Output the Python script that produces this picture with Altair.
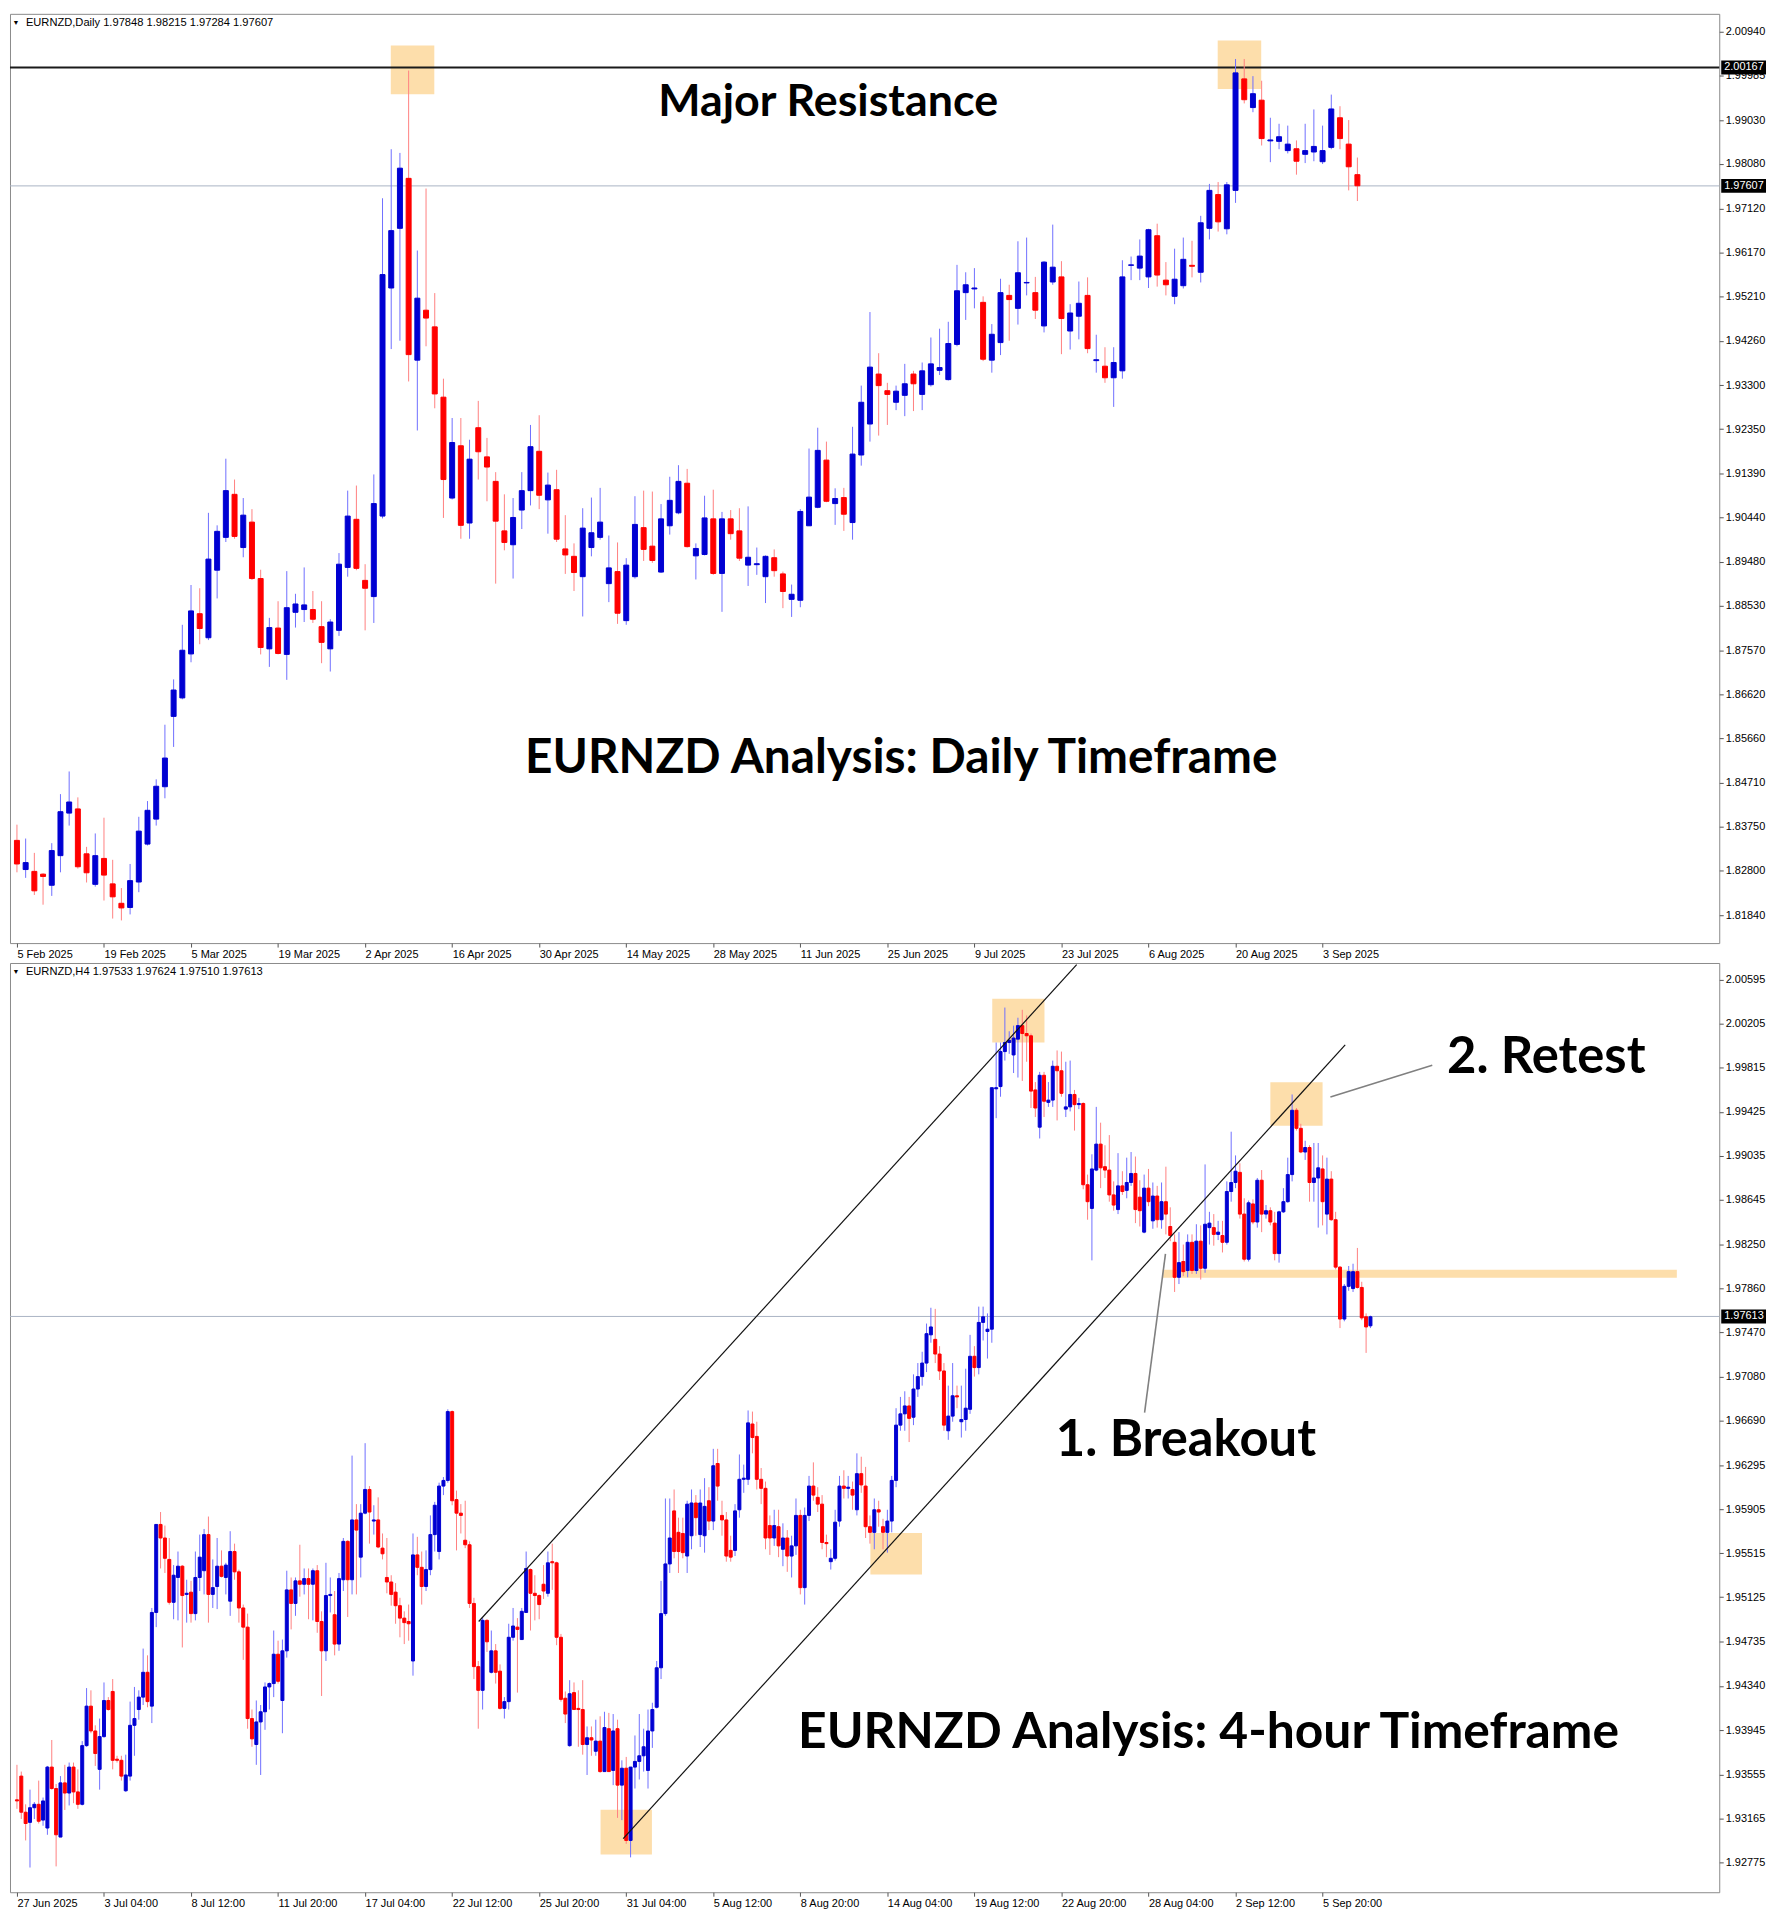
import altair as alt
import pandas as pd

FONT = "Liberation Sans"
TFONT = "Lato"
BLUE = "#0000d2"
RED = "#ff0000"
WICK_UP = "#6f6fff"
WICK_DN = "#ff8080"
BOX = "#fddeab"

# ---------------- Daily candles (5 Feb 2025 .. 9 Sep 2025) ----------------
d_open = [1.8346,1.8283,1.8279,1.8273,1.8249,1.8313,1.8405,1.8414,1.8317,1.8251,
 1.8307,1.8252,1.8210,1.8201,1.8256,1.8338,1.8392,1.8462,1.8614,1.8654,
 1.8749,1.8836,1.8784,1.8930,1.9001,1.9094,1.8979,1.9034,1.8912,1.8760,
 1.8805,1.8748,1.8839,1.8845,1.8845,1.8808,1.8760,1.8800,1.8936,1.9040,
 1.8908,1.8873,1.9047,1.9540,1.9669,1.9777,1.9384,1.9492,1.9456,1.9304,
 1.9086,1.9199,1.9032,1.9238,1.9175,1.9122,1.9015,1.8985,1.9060,1.9102,
 1.9187,1.9082,1.9104,1.8976,1.8960,1.8916,1.8979,1.9001,1.8901,1.8927,
 1.8821,1.8916,1.9022,1.8982,1.8926,1.9026,1.9054,1.9118,1.8961,1.8964,
 1.9041,1.8923,1.9041,1.9015,1.8941,1.8942,1.8916,1.8957,1.8922,1.8867,
 1.8865,1.9026,1.9066,1.9168,1.9074,1.9087,1.9033,1.9179,1.9246,1.9354,
 1.9318,1.9293,1.9308,1.9354,1.9310,1.9331,1.9362,1.9342,1.9418,1.9530,
 1.9538,1.9509,1.9384,1.9422,1.9524,1.9496,1.9551,1.9530,1.9458,1.9553,
 1.9564,1.9447,1.9479,1.9524,1.9383,1.9371,1.9346,1.9361,1.9589,1.9583,
 1.9564,1.9653,1.9557,1.9522,1.9545,1.9589,1.9574,1.9669,1.9742,1.9668,
 1.9751,1.9992,1.9930,1.9946,1.9858,1.9857,1.9837,1.9841,1.9829,1.9834,
 1.9813,1.9844,1.9908,1.9851,1.9785]
d_high = [1.8380,1.8350,1.8319,1.8275,1.8340,1.8446,1.8495,1.8439,1.8332,1.8361,
 1.8395,1.8304,1.8243,1.8295,1.8397,1.8431,1.8478,1.8596,1.8694,1.8812,
 1.8898,1.8891,1.9054,1.9027,1.9171,1.9126,1.9086,1.9062,1.8931,1.8827,
 1.8863,1.8928,1.8879,1.8936,1.8885,1.8863,1.8824,1.8967,1.9102,1.9113,
 1.8943,1.9137,1.9734,1.9840,1.9832,2.0010,1.9621,1.9755,1.9529,1.9344,
 1.9259,1.9259,1.9212,1.9296,1.9216,1.9142,1.9094,1.9086,1.9142,1.9244,
 1.9265,1.9141,1.9147,1.9049,1.8988,1.9064,1.9087,1.9108,1.9005,1.8990,
 1.8956,1.9090,1.9102,1.9100,1.9073,1.9132,1.9157,1.9149,1.8988,1.9091,
 1.9104,1.9056,1.9060,1.9064,1.9068,1.8979,1.8962,1.8975,1.8927,1.8899,
 1.9062,1.9193,1.9238,1.9208,1.9107,1.9108,1.9240,1.9329,1.9488,1.9399,
 1.9335,1.9329,1.9376,1.9361,1.9379,1.9433,1.9452,1.9467,1.9590,1.9574,
 1.9583,1.9522,1.9462,1.9560,1.9547,1.9641,1.9649,1.9564,1.9598,1.9677,
 1.9598,1.9505,1.9554,1.9563,1.9439,1.9412,1.9412,1.9600,1.9608,1.9645,
 1.9668,1.9679,1.9596,1.9625,1.9649,1.9642,1.9696,1.9765,1.9769,1.9769,
 2.0035,2.0035,1.9998,1.9988,1.9908,1.9895,1.9891,1.9859,1.9895,1.9926,
 1.9891,1.9958,1.9933,1.9903,1.9822]
d_low = [1.8277,1.8265,1.8228,1.8207,1.8226,1.8277,1.8378,1.8285,1.8255,1.8246,
 1.8216,1.8177,1.8173,1.8186,1.8234,1.8335,1.8378,1.8437,1.8548,1.8651,
 1.8731,1.8770,1.8779,1.8869,1.8991,1.8998,1.8958,1.8909,1.8748,1.8721,
 1.8748,1.8693,1.8806,1.8818,1.8816,1.8729,1.8711,1.8788,1.8916,1.8930,
 1.8800,1.8816,1.9042,1.9408,1.9426,1.9338,1.9232,1.9414,1.9280,1.9043,
 1.9083,1.8998,1.8998,1.9126,1.9079,1.8901,1.8973,1.8912,1.9019,1.9070,
 1.9062,1.9009,1.8991,1.8922,1.8885,1.8830,1.8960,1.8996,1.8861,1.8814,
 1.8812,1.8912,1.8950,1.8946,1.8924,1.9007,1.9051,1.8979,1.8910,1.8962,
 1.8920,1.8840,1.8996,1.8950,1.8896,1.8920,1.8859,1.8916,1.8848,1.8829,
 1.8850,1.9026,1.9064,1.9077,1.9028,1.9015,1.8996,1.9156,1.9208,1.9221,
 1.9244,1.9276,1.9263,1.9274,1.9276,1.9327,1.9352,1.9340,1.9414,1.9471,
 1.9496,1.9382,1.9357,1.9395,1.9426,1.9461,1.9524,1.9473,1.9444,1.9547,
 1.9397,1.9407,1.9429,1.9399,1.9357,1.9335,1.9283,1.9344,1.9557,1.9557,
 1.9540,1.9543,1.9524,1.9505,1.9539,1.9563,1.9552,1.9645,1.9662,1.9656,
 1.9724,1.9939,1.9920,1.9848,1.9812,1.9840,1.9831,1.9785,1.9810,1.9814,
 1.9808,1.9840,1.9840,1.9751,1.9728]
d_close = [1.8295,1.8298,1.8237,1.8268,1.8324,1.8408,1.8429,1.8289,1.8276,1.8313,
 1.8271,1.8224,1.8200,1.8259,1.8366,1.8411,1.8463,1.8524,1.8671,1.8757,
 1.8842,1.8804,1.8954,1.9014,1.9102,1.9003,1.9049,1.8912,1.8763,1.8806,
 1.8750,1.8849,1.8857,1.8855,1.8824,1.8774,1.8818,1.8943,1.9047,1.8934,
 1.8891,1.9074,1.9569,1.9664,1.9799,1.9396,1.9518,1.9475,1.9311,1.9126,
 1.9206,1.9027,1.9170,1.9186,1.9153,1.9036,1.8990,1.9044,1.9102,1.9197,
 1.9092,1.9114,1.8997,1.8963,1.8925,1.9021,1.9011,1.9034,1.8935,1.8837,
 1.8941,1.9029,1.8975,1.8951,1.9041,1.9081,1.9122,1.8981,1.8977,1.9043,
 1.8923,1.9041,1.9009,1.8956,1.8958,1.8944,1.8960,1.8929,1.8884,1.8878,
 1.9057,1.9088,1.9189,1.9079,1.9085,1.9051,1.9181,1.9293,1.9369,1.9329,
 1.9310,1.9317,1.9333,1.9333,1.9361,1.9376,1.9368,1.9420,1.9534,1.9547,
 1.9540,1.9386,1.9440,1.9530,1.9515,1.9573,1.9552,1.9492,1.9596,1.9585,
 1.9474,1.9486,1.9507,1.9409,1.9385,1.9346,1.9379,1.9564,1.9590,1.9609,
 1.9666,1.9568,1.9547,1.9559,1.9602,1.9587,1.9681,1.9751,1.9683,1.9763,
 2.0005,1.9947,1.9960,1.9863,1.9860,1.9867,1.9851,1.9814,1.9837,1.9846,
 1.9837,1.9927,1.9863,1.9802,1.9761]
d_xlabels = ["5 Feb 2025", "19 Feb 2025", "5 Mar 2025", "19 Mar 2025", "2 Apr 2025",
             "16 Apr 2025", "30 Apr 2025", "14 May 2025", "28 May 2025", "11 Jun 2025",
             "25 Jun 2025", "9 Jul 2025", "23 Jul 2025", "6 Aug 2025", "20 Aug 2025",
             "3 Sep 2025"]
d_yticks = [2.00940, 1.99985, 1.99030, 1.98080, 1.97120, 1.96170, 1.95210, 1.94260,
            1.93300, 1.92350, 1.91390, 1.90440, 1.89480, 1.88530, 1.87570, 1.86620,
            1.85660, 1.84710, 1.83750, 1.82800, 1.81840]

# ---------------- H4 candles (27 Jun 20:00 .. 9 Sep 2025) ----------------
h_open = [1.9333,1.9354,1.9322,1.9313,1.9326,1.9329,1.9315,1.9308,1.9362,1.9343,
 1.9300,1.9348,1.9339,1.9362,1.9340,1.9329,1.9381,1.9416,1.9394,1.9360,
 1.9389,1.9421,1.9429,1.9369,1.9368,1.9341,1.9354,1.9399,1.9413,1.9424,
 1.9446,1.9416,1.9499,1.9577,1.9565,1.9546,1.9508,1.9530,1.9540,1.9515,
 1.9517,1.9498,1.9530,1.9536,1.9568,1.9515,1.9522,1.9540,1.9530,1.9509,
 1.9553,1.9535,1.9503,1.9486,1.9405,1.9382,1.9402,1.9411,1.9433,1.9436,
 1.9462,1.9421,1.9465,1.9519,1.9507,1.9527,1.9524,1.9529,1.9524,1.9536,
 1.9491,1.9465,1.9514,1.9497,1.9471,1.9528,1.9562,1.9528,1.9581,1.9548,
 1.9587,1.9608,1.9580,1.9581,1.9556,1.9530,1.9526,1.9517,1.9505,1.9494,
 1.9491,1.9456,1.9550,1.9539,1.9522,1.9537,1.9568,1.9553,1.9611,1.9616,
 1.9677,1.9599,1.9587,1.9563,1.9559,1.9507,1.9451,1.9430,1.9492,1.9446,
 1.9465,1.9447,1.9414,1.9420,1.9477,1.9486,1.9475,1.9499,1.9537,1.9516,
 1.9514,1.9524,1.9516,1.9544,1.9543,1.9477,1.9423,1.9381,1.9428,1.9414,
 1.9413,1.9382,1.9388,1.9376,1.9385,1.9358,1.9396,1.9359,1.9396,1.9346,
 1.9361,1.9297,1.9362,1.9367,1.9372,1.9359,1.9394,1.9415,1.9450,1.9498,
 1.9542,1.9589,1.9570,1.9569,1.9549,1.9567,1.9596,1.9568,1.9567,1.9598,
 1.9580,1.9631,1.9585,1.9581,1.9554,1.9554,1.9590,1.9617,1.9617,1.9666,
 1.9655,1.9617,1.9609,1.9576,1.9565,1.9575,1.9555,1.9565,1.9549,1.9558,
 1.9585,1.9521,1.9585,1.9611,1.9601,1.9595,1.9561,1.9544,1.9547,1.9580,
 1.9611,1.9609,1.9608,1.9590,1.9622,1.9611,1.9575,1.9570,1.9590,1.9575,
 1.9570,1.9580,1.9616,1.9665,1.9675,1.9682,1.9672,1.9697,1.9708,1.9720,
 1.9745,1.9741,1.9728,1.9713,1.9660,1.9673,1.9691,1.9668,1.9670,1.9679,
 1.9726,1.9716,1.9756,1.9748,1.9750,1.9963,1.9965,1.9996,2.0004,1.9993,
 2.0007,2.0019,2.0012,2.0010,1.9962,1.9929,1.9975,1.9951,1.9953,1.9983,
 1.9979,1.9945,1.9947,1.9958,1.9949,1.9950,1.9878,1.9857,1.9891,1.9914,
 1.9894,1.9891,1.9869,1.9856,1.9877,1.9873,1.9880,1.9888,1.9867,1.9836,
 1.9875,1.9846,1.9868,1.9847,1.9863,1.9841,1.9827,1.9796,1.9810,1.9802,
 1.9827,1.9802,1.9828,1.9804,1.9840,1.9840,1.9834,1.9833,1.9827,1.9872,
 1.9880,1.9889,1.9852,1.9812,1.9861,1.9845,1.9882,1.9852,1.9855,1.9844,
 1.9817,1.9854,1.9863,1.9887,1.9944,1.9928,1.9907,1.9911,1.9880,1.9884,
 1.9892,1.9852,1.9883,1.9847,1.9805,1.9759,1.9788,1.9786,1.9801,1.9787,
 1.9761,1.9753]
h_high = [1.9364,1.9358,1.9329,1.9342,1.9331,1.9350,1.9335,1.9363,1.9386,1.9347,
 1.9354,1.9364,1.9366,1.9366,1.9360,1.9385,1.9432,1.9430,1.9399,1.9405,
 1.9437,1.9424,1.9440,1.9372,1.9372,1.9373,1.9420,1.9433,1.9430,1.9467,
 1.9461,1.9503,1.9577,1.9588,1.9576,1.9565,1.9541,1.9553,1.9541,1.9528,
 1.9527,1.9553,1.9568,1.9573,1.9584,1.9546,1.9565,1.9554,1.9543,1.9571,
 1.9560,1.9537,1.9506,1.9498,1.9413,1.9421,1.9417,1.9437,1.9437,1.9483,
 1.9474,1.9475,1.9536,1.9530,1.9530,1.9559,1.9538,1.9538,1.9538,1.9541,
 1.9500,1.9543,1.9530,1.9518,1.9534,1.9565,1.9563,1.9638,1.9595,1.9595,
 1.9649,1.9611,1.9594,1.9601,1.9569,1.9565,1.9532,1.9525,1.9512,1.9500,
 1.9506,1.9569,1.9566,1.9553,1.9554,1.9585,1.9597,1.9614,1.9619,1.9679,
 1.9678,1.9607,1.9595,1.9598,1.9562,1.9512,1.9456,1.9494,1.9493,1.9483,
 1.9471,1.9453,1.9424,1.9489,1.9503,1.9494,1.9503,1.9553,1.9538,1.9532,
 1.9515,1.9541,1.9553,1.9560,1.9544,1.9480,1.9429,1.9439,1.9437,1.9430,
 1.9439,1.9398,1.9398,1.9404,1.9407,1.9411,1.9410,1.9409,1.9404,1.9368,
 1.9371,1.9362,1.9390,1.9409,1.9396,1.9413,1.9419,1.9456,1.9527,1.9600,
 1.9600,1.9608,1.9583,1.9583,1.9598,1.9608,1.9603,1.9608,1.9618,1.9610,
 1.9644,1.9644,1.9598,1.9588,1.9567,1.9595,1.9639,1.9630,1.9678,1.9677,
 1.9668,1.9627,1.9615,1.9585,1.9590,1.9590,1.9578,1.9572,1.9567,1.9600,
 1.9590,1.9592,1.9620,1.9632,1.9610,1.9603,1.9568,1.9555,1.9590,1.9620,
 1.9625,1.9620,1.9615,1.9640,1.9637,1.9628,1.9585,1.9600,1.9598,1.9582,
 1.9590,1.9620,1.9680,1.9690,1.9695,1.9690,1.9710,1.9720,1.9730,1.9755,
 1.9769,1.9768,1.9735,1.9720,1.9700,1.9720,1.9700,1.9700,1.9715,1.9745,
 1.9735,1.9770,1.9770,1.9764,1.9964,2.0004,2.0004,2.0035,2.0014,2.0019,
 2.0026,2.0033,2.0028,2.0012,1.9969,1.9978,1.9978,1.9969,1.9988,1.9997,
 1.9996,1.9987,1.9988,1.9962,1.9955,1.9951,1.9887,1.9905,1.9947,1.9933,
 1.9913,1.9922,1.9881,1.9906,1.9890,1.9902,1.9907,1.9903,1.9882,1.9887,
 1.9892,1.9880,1.9877,1.9880,1.9894,1.9858,1.9834,1.9836,1.9825,1.9834,
 1.9834,1.9843,1.9842,1.9896,1.9854,1.9852,1.9846,1.9846,1.9881,1.9925,
 1.9904,1.9897,1.9866,1.9864,1.9865,1.9884,1.9891,1.9860,1.9858,1.9854,
 1.9855,1.9875,1.9902,1.9958,1.9946,1.9932,1.9917,1.9913,1.9915,1.9915,
 1.9904,1.9902,1.9890,1.9854,1.9806,1.9790,1.9806,1.9808,1.9822,1.9792,
 1.9764,1.9762]
h_low = [1.9325,1.9316,1.9297,1.9273,1.9316,1.9312,1.9310,1.9302,1.9342,1.9274,
 1.9300,1.9324,1.9328,1.9330,1.9325,1.9328,1.9380,1.9392,1.9363,1.9342,
 1.9388,1.9412,1.9360,1.9366,1.9350,1.9340,1.9350,1.9372,1.9404,1.9417,
 1.9415,1.9401,1.9486,1.9538,1.9534,1.9506,1.9493,1.9492,1.9468,1.9490,
 1.9490,1.9492,1.9518,1.9515,1.9490,1.9503,1.9502,1.9530,1.9515,1.9496,
 1.9528,1.9490,1.9457,1.9396,1.9380,1.9364,1.9355,1.9395,1.9413,1.9424,
 1.9436,1.9392,1.9459,1.9484,1.9496,1.9513,1.9515,1.9493,1.9492,1.9481,
 1.9425,1.9456,1.9499,1.9461,1.9465,1.9518,1.9495,1.9515,1.9515,1.9530,
 1.9586,1.9560,1.9568,1.9556,1.9546,1.9516,1.9505,1.9489,1.9477,1.9471,
 1.9474,1.9443,1.9532,1.9506,1.9518,1.9532,1.9553,1.9546,1.9603,1.9614,
 1.9594,1.9554,1.9569,1.9556,1.9503,1.9440,1.9396,1.9413,1.9464,1.9445,
 1.9436,1.9413,1.9405,1.9413,1.9474,1.9428,1.9475,1.9499,1.9483,1.9492,
 1.9493,1.9511,1.9513,1.9519,1.9470,1.9420,1.9401,1.9380,1.9413,1.9380,
 1.9373,1.9355,1.9372,1.9372,1.9357,1.9358,1.9358,1.9346,1.9317,1.9315,
 1.9294,1.9282,1.9343,1.9351,1.9358,1.9343,1.9379,1.9414,1.9440,1.9496,
 1.9534,1.9547,1.9534,1.9547,1.9534,1.9555,1.9567,1.9557,1.9552,1.9572,
 1.9572,1.9598,1.9567,1.9544,1.9544,1.9549,1.9583,1.9605,1.9612,1.9640,
 1.9608,1.9595,1.9555,1.9550,1.9558,1.9548,1.9540,1.9535,1.9530,1.9550,
 1.9515,1.9506,1.9580,1.9598,1.9588,1.9555,1.9548,1.9537,1.9545,1.9575,
 1.9600,1.9600,1.9590,1.9585,1.9605,1.9565,1.9560,1.9555,1.9575,1.9555,
 1.9552,1.9570,1.9610,1.9660,1.9660,1.9650,1.9665,1.9690,1.9700,1.9712,
 1.9738,1.9720,1.9705,1.9660,1.9652,1.9668,1.9680,1.9654,1.9660,1.9675,
 1.9708,1.9710,1.9740,1.9724,1.9738,1.9937,1.9956,1.9988,1.9994,1.9977,
 1.9973,1.9970,1.9987,1.9946,1.9938,1.9919,1.9938,1.9947,1.9947,1.9935,
 1.9956,1.9938,1.9943,1.9926,1.9945,1.9874,1.9847,1.9811,1.9890,1.9875,
 1.9884,1.9863,1.9855,1.9852,1.9869,1.9866,1.9877,1.9844,1.9841,1.9835,
 1.9859,1.9839,1.9840,1.9839,1.9834,1.9828,1.9783,1.9790,1.9797,1.9796,
 1.9799,1.9799,1.9794,1.9800,1.9825,1.9824,1.9829,1.9818,1.9825,1.9863,
 1.9875,1.9848,1.9810,1.9810,1.9843,1.9840,1.9836,1.9848,1.9842,1.9811,
 1.9809,1.9853,1.9862,1.9881,1.9926,1.9906,1.9900,1.9863,1.9863,1.9840,
 1.9842,1.9834,1.9846,1.9803,1.9751,1.9757,1.9784,1.9783,1.9786,1.9758,
 1.9729,1.9751]
h_close = [1.9332,1.9322,1.9312,1.9326,1.9329,1.9314,1.9332,1.9362,1.9343,1.9302,
 1.9348,1.9339,1.9362,1.9340,1.9329,1.9381,1.9416,1.9394,1.9374,1.9389,
 1.9421,1.9413,1.9368,1.9368,1.9354,1.9355,1.9399,1.9405,1.9424,1.9446,
 1.9420,1.9499,1.9577,1.9565,1.9547,1.9508,1.9532,1.9540,1.9514,1.9516,
 1.9498,1.9530,1.9548,1.9568,1.9515,1.9521,1.9540,1.9531,1.9541,1.9553,
 1.9535,1.9503,1.9486,1.9405,1.9387,1.9402,1.9411,1.9433,1.9436,1.9462,
 1.9438,1.9465,1.9519,1.9507,1.9527,1.9524,1.9529,1.9524,1.9536,1.9491,
 1.9465,1.9514,1.9515,1.9471,1.9529,1.9562,1.9528,1.9581,1.9572,1.9587,
 1.9608,1.9588,1.9581,1.9557,1.9551,1.9526,1.9515,1.9505,1.9494,1.9490,
 1.9489,1.9550,1.9539,1.9522,1.9537,1.9568,1.9594,1.9611,1.9616,1.9677,
 1.9598,1.9587,1.9585,1.9559,1.9507,1.9451,1.9430,1.9492,1.9473,1.9465,
 1.9446,1.9414,1.9420,1.9477,1.9487,1.9484,1.9500,1.9538,1.9516,1.9514,
 1.9506,1.9518,1.9543,1.9543,1.9477,1.9422,1.9409,1.9427,1.9413,1.9413,
 1.9382,1.9388,1.9386,1.9385,1.9358,1.9397,1.9358,1.9394,1.9346,1.9361,
 1.9297,1.9362,1.9367,1.9372,1.9380,1.9394,1.9413,1.9450,1.9498,1.9542,
 1.9565,1.9553,1.9553,1.9552,1.9595,1.9596,1.9583,1.9596,1.9593,1.9580,
 1.9629,1.9611,1.9581,1.9549,1.9548,1.9589,1.9617,1.9618,1.9667,1.9654,
 1.9617,1.9609,1.9565,1.9565,1.9576,1.9558,1.9565,1.9549,1.9558,1.9585,
 1.9521,1.9585,1.9611,1.9603,1.9595,1.9561,1.9560,1.9547,1.9579,1.9611,
 1.9609,1.9610,1.9603,1.9622,1.9612,1.9575,1.9570,1.9590,1.9588,1.9570,
 1.9580,1.9616,1.9665,1.9675,1.9682,1.9671,1.9697,1.9708,1.9720,1.9746,
 1.9752,1.9728,1.9713,1.9665,1.9673,1.9691,1.9690,1.9670,1.9680,1.9726,
 1.9716,1.9756,1.9761,1.9750,1.9964,1.9964,1.9996,2.0004,2.0006,2.0008,
 2.0019,2.0012,2.0010,1.9961,1.9946,1.9975,1.9952,1.9953,1.9983,1.9979,
 1.9959,1.9947,1.9958,1.9949,1.9950,1.9878,1.9863,1.9892,1.9914,1.9893,
 1.9891,1.9869,1.9860,1.9877,1.9872,1.9880,1.9888,1.9856,1.9855,1.9875,
 1.9863,1.9868,1.9847,1.9863,1.9852,1.9833,1.9796,1.9809,1.9801,1.9827,
 1.9802,1.9828,1.9804,1.9843,1.9844,1.9834,1.9836,1.9827,1.9872,1.9880,
 1.9890,1.9852,1.9812,1.9862,1.9845,1.9882,1.9852,1.9855,1.9845,1.9817,
 1.9854,1.9863,1.9887,1.9944,1.9928,1.9907,1.9911,1.9880,1.9884,1.9893,
 1.9863,1.9883,1.9847,1.9805,1.9759,1.9788,1.9801,1.9801,1.9787,1.9760,
 1.9752,1.9761]
h_xlabels = ["27 Jun 2025", "3 Jul 04:00", "8 Jul 12:00", "11 Jul 20:00", "17 Jul 04:00",
             "22 Jul 12:00", "25 Jul 20:00", "31 Jul 04:00", "5 Aug 12:00", "8 Aug 20:00",
             "14 Aug 04:00", "19 Aug 12:00", "22 Aug 20:00", "28 Aug 04:00", "2 Sep 12:00",
             "5 Sep 20:00"]
h_yticks = [2.00595, 2.00205, 1.99815, 1.99425, 1.99035, 1.98645, 1.98250, 1.97860,
            1.97470, 1.97080, 1.96690, 1.96295, 1.95905, 1.95515, 1.95125, 1.94735,
            1.94340, 1.93945, 1.93555, 1.93165, 1.92775]

# ---------------- annotations ----------------
d_header = "EURNZD,Daily  1.97848 1.98215 1.97284 1.97607"
h_header = "EURNZD,H4  1.97533 1.97624 1.97510 1.97613"
d_resistance = 2.00167
d_last = 1.97607
h_last = 1.97613

d_box_x = [42.95, 137.95]; d_box_x2 = [47.95, 142.95]
d_box_y = [2.0064, 2.0075]; d_box_y2 = [1.9959, 1.9970]
h_box_x = [134.1, 196.1, 224.1, 288.0, 263.2]
h_box_x2 = [145.9, 207.95, 236.1, 300.0, 381.4]
h_box_y = [1.93241, 1.95695, 2.00428, 1.99689, 1.98026]
h_box_y2 = [1.92845, 1.95326, 2.00041, 1.99302, 1.97956]

chan_x = [106.1, 139.3]; chan_y = [1.9491, 1.92986]
chan_x2 = [243.5, 305.2]; chan_y2 = [2.0073, 2.0002]
ptr_x = [263.9, 301.8]; ptr_y = [1.98167, 1.99557]
ptr_x2 = [259.1, 325.2]; ptr_y2 = [1.96760, 1.99839]

d_note_txt = ["Major Resistance", "EURNZD Analysis: Daily Timeframe"]
d_note_x = [93.2, 101.6]; d_note_y = [1.9942, 1.8522]; d_note_fs = [45, 48]
h_note_txt = ["2. Retest", "1. Breakout", "EURNZD Analysis: 4-hour Timeframe"]
h_note_x = [351.4, 268.6, 273.8]; h_note_y = [1.9990, 1.96505, 1.93918]; h_note_fs = [51, 51, 50]

W = 1718
ONE = pd.DataFrame({"a": [0]})


def panel(o, h, l, c, xlabels, step, yticks, xdom, ydom, height, bw, header,
          hl, tags, boxes, chans=None, ptrs=None, notes=None):
    expr = "[" + ",".join("'%s'" % s for s in xlabels) + "][round(datum.value/%d)]" % step
    xaxis = alt.Axis(values=[k * step for k in range(len(xlabels))], labelExpr=expr,
                     labelAlign="left", labelOverlap=False, grid=False, domain=False,
                     tickSize=4, tickColor="#555555", labelPadding=1, labelFont=FONT,
                     labelFontSize=11, labelColor="#000000", title=None,
                     labelBound=False, labelFlush=False)
    yaxis = alt.Axis(orient="right", values=yticks, format=".5f", labelOverlap=False,
                     grid=False, domain=False, tickSize=4, tickColor="#555555",
                     labelPadding=2, labelFont=FONT, labelFontSize=11,
                     labelColor="#000000", title=None, labelBound=False)

    def X(f):
        return alt.X(f, type="quantitative",
                     scale=alt.Scale(domain=xdom, nice=False, zero=False), axis=xaxis)

    def Y(f):
        return alt.Y(f, type="quantitative",
                     scale=alt.Scale(domain=ydom, nice=False, zero=False), axis=yaxis)

    df = pd.DataFrame({"i": list(range(len(o))), "o": o, "h": h, "l": l, "c": c})
    up = "datum.c >= datum.o"
    layers = []
    layers.append(alt.Chart(boxes).mark_rect(color=BOX).encode(
        x=X("x"), x2="x2:Q", y=Y("y"), y2="y2:Q"))
    for val, col, sw in hl:
        layers.append(alt.Chart(pd.DataFrame({"p": [val]})).mark_rule(
            color=col, strokeWidth=sw).encode(y=Y("p")))
    layers.append(alt.Chart(df).mark_rule(strokeWidth=1).encode(
        x=X("i"), y=Y("l"), y2="h:Q",
        color=alt.condition(up, alt.value(WICK_UP), alt.value(WICK_DN))))
    layers.append(alt.Chart(df).mark_bar(size=bw - 1, strokeWidth=1).encode(
        x=X("i"), y=Y("o"), y2="c:Q",
        fill=alt.condition(up, alt.value(BLUE), alt.value(RED)),
        stroke=alt.condition(up, alt.value(BLUE), alt.value(RED))))
    if chans is not None:
        layers.append(alt.Chart(chans).mark_rule(color="#111111", strokeWidth=1.2,
                                                 clip=True).encode(
            x=X("x"), x2="x2:Q", y=Y("y"), y2="y2:Q"))
    if ptrs is not None:
        layers.append(alt.Chart(ptrs).mark_rule(color="#808080", strokeWidth=1.6).encode(
            x=X("x"), x2="x2:Q", y=Y("y"), y2="y2:Q"))
    if notes is not None:
        layers.append(alt.Chart(notes).mark_text(
            font=TFONT, fontWeight="bold", color="#000000", align="center",
            baseline="middle").encode(
            x=X("x"), y=Y("y"), text="t:N", size=alt.Size("fs:Q", scale=None)))
    layers.append(alt.Chart(tags).mark_rect(color="#000000", yOffset=-7, y2Offset=7).encode(
        x=alt.value(W + 2), x2=alt.value(W + 47), y=Y("p"), y2="p:Q"))
    layers.append(alt.Chart(tags).mark_text(
        color="#ffffff", align="left", baseline="middle", font=FONT, fontSize=11).encode(
        x=alt.value(W + 5), y=Y("p"), text="lbl:N"))
    layers.append(alt.Chart(ONE).mark_text(text="\u25bc", fontSize=7, color="#000000",
                                           baseline="middle").encode(
        x=alt.value(6), y=alt.value(9)))
    layers.append(alt.Chart(ONE).mark_text(text=header, fontSize=11.2, font=FONT,
                                           color="#000000", align="left",
                                           baseline="middle").encode(
        x=alt.value(16), y=alt.value(9)))
    return alt.layer(*layers).properties(width=W, height=height)


top = panel(d_open, d_high, d_low, d_close, d_xlabels, 10, d_yticks,
            [-0.227, 195.0], [1.8124, 2.01326], 934, 6, d_header,
            [(d_last, "#a9b3c4", 1), (d_resistance, "#1a1a1a", 2)],
            pd.DataFrame({"p": [d_resistance, d_last], "lbl": ["2.00167", "1.97607"]}),
            pd.DataFrame({"x": d_box_x, "x2": d_box_x2, "y": d_box_y, "y2": d_box_y2}),
            notes=pd.DataFrame({"x": d_note_x, "y": d_note_y, "t": d_note_txt, "fs": d_note_fs}))

bottom = panel(h_open, h_high, h_low, h_close, h_xlabels, 20, h_yticks,
               [-0.4545, 390.0], [1.92511, 2.00745], 934, 4, h_header,
               [(h_last, "#a9b3c4", 1)],
               pd.DataFrame({"p": [h_last], "lbl": ["1.97613"]}),
               pd.DataFrame({"x": h_box_x, "x2": h_box_x2, "y": h_box_y, "y2": h_box_y2}),
               chans=pd.DataFrame({"x": chan_x, "y": chan_y, "x2": chan_x2, "y2": chan_y2}),
               ptrs=pd.DataFrame({"x": ptr_x, "y": ptr_y, "x2": ptr_x2, "y2": ptr_y2}),
               notes=pd.DataFrame({"x": h_note_x, "y": h_note_y, "t": h_note_txt, "fs": h_note_fs}))

chart = alt.vconcat(top, bottom, spacing=2).properties(
    padding={"left": 0, "top": 0, "right": 0, "bottom": 0}, background="white"
).configure_view(stroke="#8a8a8a", strokeWidth=1)

chart.save("out.html", embed_options={"renderer": "svg", "actions": False})
